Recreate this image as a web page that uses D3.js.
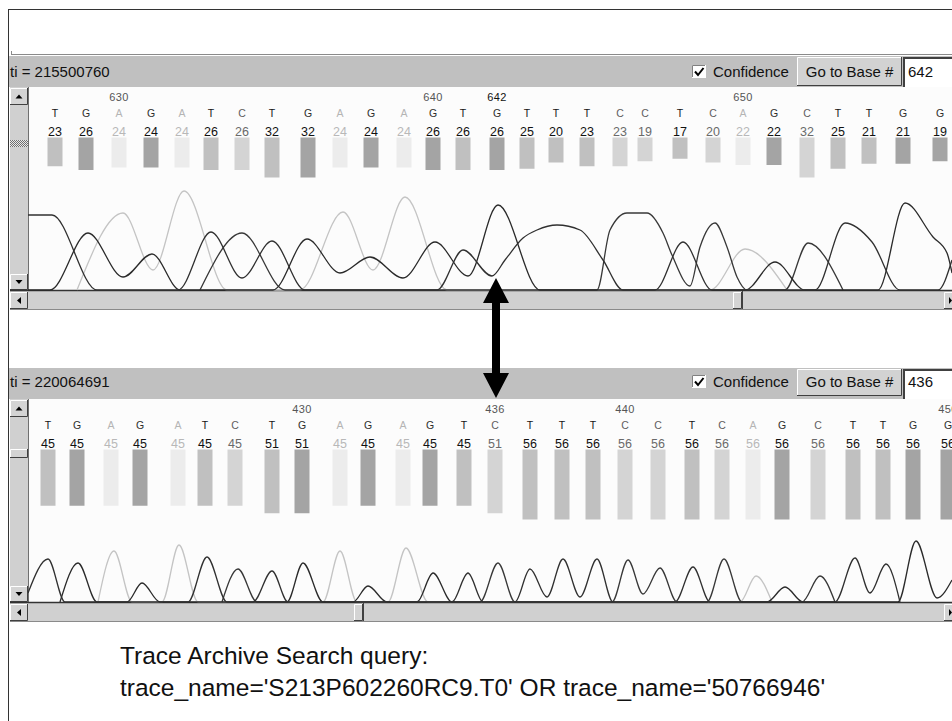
<!DOCTYPE html>
<html>
<head>
<meta charset="utf-8">
<script src="https://cdn.jsdelivr.net/npm/d3@7"></script>
<style>
  body { margin: 0; background: #fff; }
  svg { display: block; font-family: Arial, "Liberation Sans", sans-serif; }
</style>
</head>
<body>
<svg id="chart" width="952" height="721"></svg>
<script>
// ---- DATA (x values are trace scan positions, heights are signal above baseline) ----
const topBases = ['T','G','A','G','A','T','C','T','G','A','G','A','G','T','G','T','T','T','C','C','T','C','A','G','C','T','T','G','G'];
const topConf  = [23,26,24,24,24,26,26,32,32,24,24,24,26,26,26,25,20,23,23,19,17,20,22,22,32,25,21,21,19];
const topBaseX = [27,58,91,123,154,183,214,244,280,312,343,376,405,435,469,499,528,559,592,617,652,685,715,746,779,810,841,875,912];
const topFirstBase = 628;
const topPosLabels = [630, 640, 642, 650];

const botBases = ['T','G','A','G','A','T','C','T','G','A','G','A','G','T','C','T','T','T','C','C','T','C','A','G','C','T','T','G','G'];
const botConf  = [45,45,45,45,45,45,45,51,51,45,45,45,45,45,51,56,56,56,56,56,56,56,56,56,56,56,56,56,56];
const botBaseX = [20,49,83,112,150,177,207,244,274,312,340,375,402,436,467,502,534,565,597,630,664,694,725,754,790,825,855,885,920];
const botFirstBase = 422;
const botPosLabels = [430, 436, 440, 450];

// chromatogram traces, top read
const topTraceA = [[49,0],[95,77],[125,20],[156,99],[199,0],[272,0],[315,78],[345,20],[377,93],[419,0],[682,0],[717,41],[759,0]];
const topTraceC = [[172,0],[214,57],[257,0],[569,0],[582,60],[599,77],[619,77],[635,57],[644,35],[662,4],[672,43],[687,67],[699,43],[709,13],[719,0],[757,0],[780,47],[815,0]];
const topTraceG = [[0,0],[22,0],[60,57],[95,13],[124,36],[152,0],[245,0],[279,51],[312,17],[342,33],[375,12],[407,48],[440,14],[470,85],[512,0],[717,0],[747,28],[777,0],[850,0],[877,87],[905,53],[919,37],[924,17]];
const topTraceT = [[0,75],[24,75],[69,0],[150,0],[183,58],[214,12],[244,49],[277,0],[409,0],[435,40],[464,14],[477,30],[495,52],[509,60],[529,65],[552,60],[575,30],[595,0],[627,0],[655,48],[684,0],[787,0],[817,67],[844,48],[872,0],[910,0],[924,30]];

// chromatogram traces, bottom read
const botTraceA = [[70,0],[86,51],[104,0],[134,0],[151,57],[170,0],[295,0],[312,51],[329,0],[360,0],[378,54],[400,0],[712,0],[728,26],[744,0]];
const botTraceC = [[194,0],[210,33],[229,0],[452,0],[470,39],[487,0],[584,0],[600,42],[615,8],[632,34],[649,0],[679,0],[696,43],[714,0],[774,0],[792,26],[807,0]];
const botTraceG = [[32,0],[50,39],[69,0],[99,0],[114,19],[132,0],[259,0],[275,39],[295,0],[325,0],[340,16],[359,0],[389,0],[405,29],[424,0],[739,0],[757,15],[775,0],[870,0],[888,61],[909,4],[924,22]];
const botTraceT = [[0,9],[20,43],[37,0],[160,0],[179,45],[199,0],[225,0],[244,31],[260,0],[424,0],[440,29],[455,0],[487,0],[502,33],[519,5],[535,43],[552,5],[569,43],[585,0],[647,0],[665,35],[682,0],[807,0],[827,44],[842,9],[858,38],[872,0]];

const queryLines = ["Trace Archive Search query:", "trace_name='S213P602260RC9.T0' OR trace_name='50766946'"];

// ---- STYLE ----
const letterColor = { T: '#151515', G: '#2e2e2e', C: '#5e5e5e', A: '#b4b4b4' };
const numColor    = { T: '#111', G: '#111', C: '#6a6a6a', A: '#b8b8b8' };
const barColor    = { T: '#c0c0c0', G: '#a4a4a4', C: '#d4d4d4', A: '#ececec' };
const traceColor  = { A: '#c4c4c4', C: '#383838', G: '#2a2a2a', T: '#303030' };

const svg = d3.select('#chart');
const x = d3.scaleLinear().domain([0, 924]).range([28, 952]);
const barH = d3.scaleLinear().domain([0, 60]).range([0, 75]);

const defs = svg.append('defs');
const hatch = defs.append('pattern').attr('id', 'hatch').attr('width', 2).attr('height', 2)
  .attr('patternUnits', 'userSpaceOnUse');
hatch.append('rect').attr('width', 2).attr('height', 2).attr('fill', '#e8e8e8');
hatch.append('rect').attr('width', 1).attr('height', 1).attr('fill', '#707070');
hatch.append('rect').attr('x', 1).attr('y', 1).attr('width', 1).attr('height', 1).attr('fill', '#707070');

// outer frame
svg.append('line').attr('x1', 8).attr('x2', 952).attr('y1', 9.5).attr('y2', 9.5).attr('stroke', '#333');
svg.append('line').attr('x1', 8.5).attr('x2', 8.5).attr('y1', 9).attr('y2', 721).attr('stroke', '#333');
svg.append('line').attr('x1', 11).attr('x2', 952).attr('y1', 54.5).attr('y2', 54.5).attr('stroke', '#8a8a8a');
svg.append('line').attr('x1', 11.5).attr('x2', 11.5).attr('y1', 51).attr('y2', 55).attr('stroke', '#8a8a8a');

function bevel(g, x0, y0, w, h, fill, raised) {
  g.append('rect').attr('x', x0).attr('y', y0).attr('width', w).attr('height', h).attr('fill', fill);
  const lt = raised ? '#fff' : '#808080', rb = raised ? '#404040' : '#fff';
  g.append('path').attr('d', `M${x0 + 0.5},${y0 + h}V${y0 + 0.5}H${x0 + w}`).attr('stroke', lt).attr('fill', 'none');
  g.append('path').attr('d', `M${x0 + w - 0.5},${y0}V${y0 + h - 0.5}H${x0}`).attr('stroke', rb).attr('fill', 'none');
}

function arrowBtn(g, x0, y0, w, h, dir) {
  bevel(g, x0, y0, w, h, '#d4d4d4', true);
  const cx = x0 + w / 2, cy = y0 + h / 2;
  const pts = {
    up: [[cx - 3.5, cy + 2], [cx + 3.5, cy + 2], [cx, cy - 2]],
    down: [[cx - 3.5, cy - 2], [cx + 3.5, cy - 2], [cx, cy + 2]],
    left: [[cx + 2, cy - 3.5], [cx + 2, cy + 3.5], [cx - 2, cy]]
  }[dir];
  g.append('path').attr('d', 'M' + pts.join('L') + 'Z').attr('fill', '#000');
}

function drawPanel(p, idx) {
  const g = svg.append('g').attr('transform', `translate(0,${p.top})`);
  const y = d3.scaleLinear().domain([0, 100]).range([234, 134]);

  // header
  g.append('rect').attr('x', 9).attr('y', 0).attr('width', 943).attr('height', 31).attr('fill', '#c0c0c0');
  g.append('text').attr('x', 10).attr('y', 21 + p.hy).attr('font-size', 15).attr('fill', '#111').text('ti = ' + p.ti);
  bevel(g, 692, 9 + p.hy, 14, 13, '#fff', false);
  g.append('path').attr('d', `M695,${15.5 + p.hy}l3,3.5l5.5,-7`).attr('stroke', '#000').attr('stroke-width', 2).attr('fill', 'none');
  g.append('text').attr('x', 713).attr('y', 21 + p.hy).attr('font-size', 15).attr('fill', '#111').text('Confidence');
  bevel(g, 797, 1, 105, 29 + p.hy, '#d2d2d2', true);
  g.append('text').attr('x', 849.5).attr('y', 21 + p.hy).attr('font-size', 15).attr('text-anchor', 'middle').attr('fill', '#111').text('Go to Base #');
  g.append('rect').attr('x', 903).attr('y', 1).attr('width', 52).attr('height', 30).attr('fill', '#fff');
  g.append('path').attr('d', 'M904,31V2H952').attr('stroke', '#404040').attr('stroke-width', 2).attr('fill', 'none');
  g.append('text').attr('x', 908).attr('y', 21 + p.hy).attr('font-size', 15).attr('fill', '#111').text(p.goto);

  // content
  g.append('rect').attr('x', 28).attr('y', 31).attr('width', 924).attr('height', 204).attr('fill', '#fcfcfc');
  const clipId = 'clip' + idx;
  defs.append('clipPath').attr('id', clipId).append('rect')
    .attr('x', 28).attr('y', p.top + 31).attr('width', 924).attr('height', 204);
  const c = svg.append('g').attr('clip-path', `url(#${clipId})`)
    .append('g').attr('transform', `translate(0,${p.top})`);

  const bases = p.bases.map((b, i) => ({ b, q: p.conf[i], sx: p.baseX[i], pos: p.first + i }));

  c.selectAll('.pos').data(p.labels).join('text').attr('class', 'pos')
    .attr('x', d => x(p.baseX[d - p.first])).attr('y', 44.5)
    .attr('text-anchor', 'middle').attr('font-size', 11).attr('letter-spacing', 0.4)
    .attr('fill', d => d === p.current ? '#111' : '#555').text(d => d);

  c.selectAll('.base').data(bases).join('text').attr('class', 'base')
    .attr('x', d => x(d.sx)).attr('y', 61).attr('text-anchor', 'middle').attr('font-size', 10.5)
    .attr('fill', d => letterColor[d.b]).text(d => d.b);

  c.selectAll('.conf').data(bases).join('text').attr('class', 'conf')
    .attr('x', d => x(d.sx)).attr('y', 80).attr('text-anchor', 'middle').attr('font-size', 12.5)
    .attr('fill', d => numColor[d.b]).text(d => d.q);

  c.selectAll('.bar').data(bases).join('rect').attr('class', 'bar')
    .attr('x', d => x(d.sx) - 7.5).attr('y', 81.5).attr('width', 15)
    .attr('height', d => barH(d.q)).attr('fill', d => barColor[d.b]);

  const line = d3.line().x(d => x(d[0])).y(d => y(d[1])).curve(d3.curveMonotoneX);
  ['A', 'C', 'G', 'T'].forEach(k => {
    c.append('path').attr('d', line(p.traces[k])).attr('fill', 'none')
      .attr('stroke', traceColor[k]).attr('stroke-width', 1.3);
  });

  // vertical scrollbar
  g.append('rect').attr('x', 10).attr('y', 31).attr('width', 18).attr('height', 204).attr('fill', '#d0d0d0');
  g.append('line').attr('x1', 28.5).attr('x2', 28.5).attr('y1', 31).attr('y2', 235).attr('stroke', '#707070');
  arrowBtn(g, 10, 32, 18, 17, 'up');
  arrowBtn(g, 10, 218, 18, 16, 'down');
  if (p.hatch) {
    g.append('rect').attr('x', 10).attr('y', 84).attr('width', 18).attr('height', 7).attr('fill', 'url(#hatch)');
  } else {
    bevel(g, 10, 81, 18, 9, '#d4d4d4', true);
  }

  // baseline + horizontal scrollbar
  g.append('rect').attr('x', 10).attr('y', 235).attr('width', 942).attr('height', 18).attr('fill', '#d0d0d0');
  g.append('line').attr('x1', 10).attr('x2', 952).attr('y1', 234.5).attr('y2', 234.5).attr('stroke', '#333').attr('stroke-width', 1.4);
  g.append('line').attr('x1', 10).attr('x2', 952).attr('y1', 253.5).attr('y2', 253.5).attr('stroke', '#8a8a8a');
  arrowBtn(g, 10, 236, 18, 17, 'left');
  bevel(g, 944, 236, 12, 17, '#d4d4d4', true);
  g.append('path').attr('d', 'M949,241L949,248L952,244.5Z').attr('fill', '#000');
  bevel(g, p.thumb, 236, 9, 17, '#d4d4d4', true);
  g.append('line').attr('x1', p.thumb + 9.5).attr('x2', p.thumb + 9.5).attr('y1', 235).attr('y2', 253).attr('stroke', '#404040');
}

const panels = [
  { top: 56, hy: 0, ti: '215500760', goto: '642', bases: topBases, conf: topConf, baseX: topBaseX,
    first: topFirstBase, labels: topPosLabels, current: 642, hatch: true, thumb: 733,
    traces: { A: topTraceA, C: topTraceC, G: topTraceG, T: topTraceT } },
  { top: 368, hy: -2, ti: '220064691', goto: '436', bases: botBases, conf: botConf, baseX: botBaseX,
    first: botFirstBase, labels: botPosLabels, current: null, hatch: false, thumb: 354,
    traces: { A: botTraceA, C: botTraceC, G: botTraceG, T: botTraceT } }
];
panels.forEach(drawPanel);

// double arrow linking base 642 (top) with base 436 (bottom)
const ax = x(topBaseX[642 - topFirstBase]) - 1;
const y1 = 278, y2 = 398, hl = 25, hw = 13, sw = 4;
svg.append('path')
  .attr('d', `M${ax},${y1}L${ax + hw},${y1 + hl}L${ax + sw},${y1 + hl}L${ax + sw},${y2 - hl}L${ax + hw},${y2 - hl}` +
    `L${ax},${y2}L${ax - hw},${y2 - hl}L${ax - sw},${y2 - hl}L${ax - sw},${y1 + hl}L${ax - hw},${y1 + hl}Z`)
  .attr('fill', '#000');

// query text
svg.selectAll('.query').data(queryLines).join('text').attr('class', 'query')
  .attr('x', 120).attr('y', (d, i) => 664 + i * 32).attr('font-size', 24.5).attr('fill', '#111').text(d => d);
</script>
</body>
</html>
